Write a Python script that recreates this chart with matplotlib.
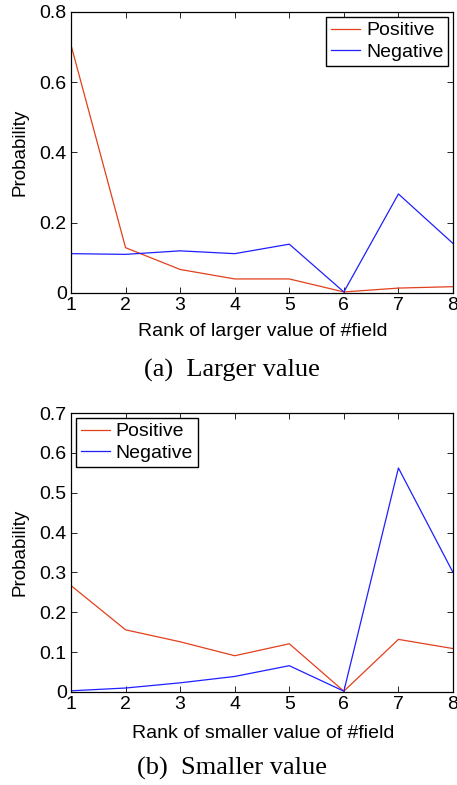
import matplotlib.pyplot as plt

# ranks on x axis
ranks = [1, 2, 3, 4, 5, 6, 7, 8]

# (a) larger value
pos_larger = [0.706, 0.129, 0.067, 0.040, 0.040, 0.003, 0.014, 0.018]
neg_larger = [0.112, 0.110, 0.120, 0.112, 0.139, 0.003, 0.282, 0.141]

# (b) smaller value
pos_smaller = [0.267, 0.156, 0.126, 0.091, 0.121, 0.002, 0.132, 0.109]
neg_smaller = [0.003, 0.010, 0.023, 0.039, 0.066, 0.002, 0.562, 0.300]

yticks_a = [0, 0.2, 0.4, 0.6, 0.8]
yticks_b = [0, 0.1, 0.2, 0.3, 0.4, 0.5, 0.6, 0.7]

plt.rcParams['font.family'] = ['Liberation Sans', 'DejaVu Sans']

W, H = 457, 785
fig = plt.figure(figsize=(W / 100, H / 100), dpi=100)

red = '#e2401c'
blue = '#1f1fff'


def panel(rect, pos, neg, yticks, ylim, xlabel, caption, legend_loc, cap_y, xl_y):
    ax = fig.add_axes(rect)
    ax.plot(ranks, pos, color=red, lw=0.9, label='Positive')
    ax.plot(ranks, neg, color=blue, lw=0.9, label='Negative')
    ax.set_xlim(1, 8)
    ax.set_ylim(*ylim)
    ax.set_xticks(ranks)
    ax.set_yticks(yticks)
    ax.set_yticklabels(['0' if v == 0 else f'{v:g}' for v in yticks])
    ax.tick_params(direction='in', top=True, right=True, labelsize=14,
                   length=4, width=0.6, pad=3)
    for s in ax.spines.values():
        s.set_linewidth(0.9)
    ax.set_ylabel('Probability', fontsize=13.5, labelpad=8)
    fig.text(0.575, xl_y, xlabel, ha='center', va='center', fontsize=14)
    fig.text(0.508, cap_y, caption, ha='center', va='center', fontsize=19,
             family=['Liberation Serif', 'DejaVu Serif'])
    leg = ax.legend(loc=legend_loc, fontsize=14, fancybox=False,
                    edgecolor='black', framealpha=1, handlelength=1.5,
                    borderpad=0.25, labelspacing=0.2, handletextpad=0.3,
                    borderaxespad=0.25)
    leg.get_frame().set_linewidth(1.0)
    return ax


# axes rects in pixel coords converted to figure fractions
def rect(l, t, r, b):
    return [l / W, 1 - b / H, (r - l) / W, (b - t) / H]


panel(rect(71, 12, 453, 293), pos_larger, neg_larger, yticks_a, (0, 0.8),
      'Rank of larger value of #field', '(a)  Larger value', 'upper right',
      1 - 370 / H, 1 - 332 / H)
panel(rect(71, 413, 453, 692), pos_smaller, neg_smaller, yticks_b, (0, 0.7),
      'Rank of smaller value of #field', '(b)  Smaller value', 'upper left',
      1 - 768 / H, 1 - 733 / H)

fig.savefig('out.png', dpi=100)
